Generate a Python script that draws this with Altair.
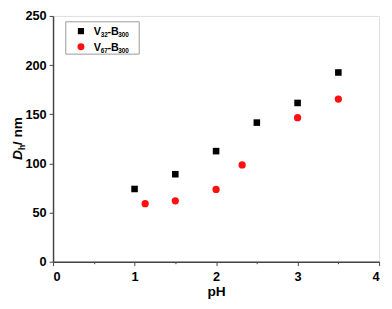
import altair as alt
import pandas as pd

# Data
ph_v32 = [1.0, 1.5, 2.0, 2.5, 3.0, 3.5]
dh_v32 = [74, 89, 112.5, 141.5, 161.5, 192.5]
ph_v67 = [1.13, 1.5, 2.0, 2.32, 3.0, 3.5]
dh_v67 = [59, 62, 73.5, 98.5, 146.5, 165.5]

x_ticks = [0, 0.5, 1, 1.5, 2, 2.5, 3, 3.5, 4]
y_ticks = [0, 25, 50, 75, 100, 125, 150, 175, 200, 225, 250]

W, H = 333, 251
FONT = "Liberation Sans"

df1 = pd.DataFrame({"pH": ph_v32, "Dh": dh_v32})
df2 = pd.DataFrame({"pH": ph_v67, "Dh": dh_v67})

xscale = alt.Scale(domain=[0, 4], nice=False, zero=False)
yscale = alt.Scale(domain=[0, 250], nice=False)

xaxis = alt.Axis(
    values=x_ticks,
    labelExpr="datum.value % 1 === 0 ? format(datum.value, 'd') : ''",
    tickSize={"condition": {"test": "datum.value % 1 === 0", "value": 4}, "value": 2},
    grid=False, title="pH", titleFontSize=14, titleFont=FONT, titleFontWeight="bold",
    titlePadding=2, labelFontSize=13, labelFont=FONT, labelFontWeight="bold",
    labelPadding=5, labelColor="black", titleColor="black",
    domainColor="#444", tickColor="#444", domainWidth=1.5,
)
yaxis = alt.Axis(
    values=y_ticks,
    labelExpr="datum.value % 50 === 0 ? format(datum.value, 'd') : ''",
    tickSize={"condition": {"test": "datum.value % 50 === 0", "value": 4}, "value": 2},
    grid=False, title=None, labelFontSize=13, labelFont=FONT, labelFontWeight="bold",
    labelPadding=3, labelColor="black",
    domainColor="#444", tickColor="#444", domainWidth=1.5,
)

pts1 = alt.Chart(df1).mark_point(shape="square", filled=True, color="black", size=45, opacity=1).encode(
    x=alt.X("pH:Q", scale=xscale, axis=xaxis),
    y=alt.Y("Dh:Q", scale=yscale, axis=yaxis),
)
pts2 = alt.Chart(df2).mark_point(shape="circle", filled=True, color="#ff1010", size=55, opacity=1).encode(
    x=alt.X("pH:Q", scale=xscale),
    y=alt.Y("Dh:Q", scale=yscale),
)

one = pd.DataFrame({"a": [0]})

def txt(s, x, y, size, angle=0, style="normal", weight="bold"):
    return alt.Chart(one).mark_text(
        text=s, font=FONT, fontSize=size, fontWeight=weight, fontStyle=style,
        align="left", baseline="alphabetic", angle=angle, color="black",
    ).encode(x=alt.value(x), y=alt.value(y))

# legend box
box = alt.Chart(one).mark_rect(fill="white", stroke="#999", strokeWidth=1).encode(
    x=alt.value(13), x2=alt.value(88), y=alt.value(6), y2=alt.value(39)
)
leg_sq = alt.Chart(one).mark_point(shape="square", filled=True, color="black", size=40, opacity=1).encode(
    x=alt.value(28.5), y=alt.value(15.5))
leg_ci = alt.Chart(one).mark_point(shape="circle", filled=True, color="#ff1010", size=50, opacity=1).encode(
    x=alt.value(28.5), y=alt.value(31.5))

legend_names = [("V", "32", "-B", "300"), ("V", "67", "-B", "300")]
legend_layers = []
for (a, b, c, d), base in zip(legend_names, [19.3, 35.3]):
    legend_layers += [
        txt(a, 41.5, base, 11),
        txt(b, 48.8, base + 2.5, 6.5),
        txt(c, 55.5, base, 11),
        txt(d, 66.5, base + 2.5, 6.5),
    ]

# y title: D_h / nm (rotated)
ytitle = [
    txt("D", -32, 147, 14, angle=270, style="italic"),
    txt("h", -29, 137, 9, angle=270),
    txt(" / nm", -32, 132, 14, angle=270),
]

chart = alt.layer(pts1, pts2, box, leg_sq, leg_ci, *legend_layers, *ytitle).properties(
    width=W, height=H,
    autosize=alt.AutoSizeParams(type="none"),
    padding={"left": 46, "top": 5, "right": 5, "bottom": 37},
).configure_view(stroke="#444", strokeWidth=1.5).configure(background="white")

chart.save("out.html", embed_options={"renderer": "svg", "actions": False})
